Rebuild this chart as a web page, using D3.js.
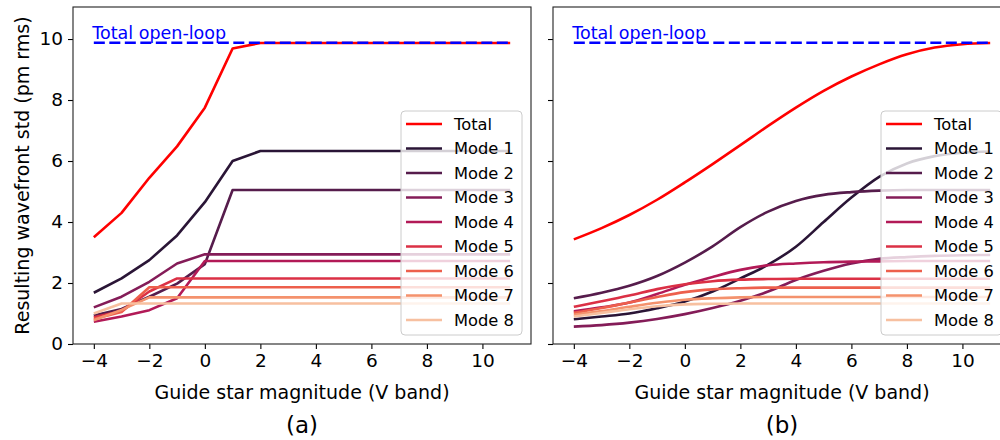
<!DOCTYPE html>
<html>
<head>
<meta charset="utf-8">
<script src="https://cdn.jsdelivr.net/npm/d3@7"></script>
<style>
body { margin: 0; background: #fff; }
text { font-family: "DejaVu Sans", sans-serif; }
</style>
</head>
<body>
<script>
// guide star magnitudes (V band)
var mags = [-4, -3, -2, -1, 0, 1, 2, 3, 4, 5, 6, 7, 8, 9, 10, 11];
var openLoop = 9.88;
var seriesNames = ["Total", "Mode 1", "Mode 2", "Mode 3", "Mode 4", "Mode 5", "Mode 6", "Mode 7", "Mode 8"];
var seriesColors = ["#ff0000", "#2a1536", "#561c4c", "#841c58", "#b21a57", "#db3045", "#ed5f4c", "#f4926d", "#f7c0a0"];
var xTicks = [-4, -2, 0, 2, 4, 6, 8, 10];
var yTicks = [0, 2, 4, 6, 8, 10];

// panel (a)
var totalA = [3.5, 4.3, 5.45, 6.48, 7.75, 9.69, 9.87, 9.87, 9.87, 9.87, 9.87, 9.87, 9.87, 9.87, 9.87, 9.87];
var mode1A = [1.68, 2.15, 2.75, 3.56, 4.65, 6.0, 6.33, 6.33, 6.33, 6.33, 6.33, 6.33, 6.33, 6.33, 6.33, 6.33];
var mode2A = [0.93, 1.15, 1.55, 1.98, 2.62, 5.05, 5.05, 5.05, 5.05, 5.05, 5.05, 5.05, 5.05, 5.05, 5.05, 5.05];
var mode3A = [1.2, 1.55, 2.04, 2.64, 2.94, 2.94, 2.94, 2.94, 2.94, 2.94, 2.94, 2.94, 2.94, 2.94, 2.94, 2.94];
var mode4A = [0.73, 0.9, 1.11, 1.5, 2.72, 2.72, 2.72, 2.72, 2.72, 2.72, 2.72, 2.72, 2.72, 2.72, 2.72, 2.72];
var mode5A = [0.88, 1.08, 1.72, 2.15, 2.15, 2.15, 2.15, 2.15, 2.15, 2.15, 2.15, 2.15, 2.15, 2.15, 2.15, 2.15];
var mode6A = [0.82, 1.05, 1.86, 1.86, 1.86, 1.86, 1.86, 1.86, 1.86, 1.86, 1.86, 1.86, 1.86, 1.86, 1.86, 1.86];
var mode7A = [0.78, 1.12, 1.53, 1.53, 1.53, 1.53, 1.53, 1.53, 1.53, 1.53, 1.53, 1.53, 1.53, 1.53, 1.53, 1.53];
var mode8A = [1.0, 1.33, 1.33, 1.33, 1.33, 1.33, 1.33, 1.33, 1.33, 1.33, 1.33, 1.33, 1.33, 1.33, 1.33, 1.33];

// panel (b)
var totalB = [3.43, 3.8, 4.23, 4.73, 5.3, 5.9, 6.52, 7.15, 7.75, 8.3, 8.77, 9.17, 9.5, 9.72, 9.83, 9.87];
var mode1B = [0.81, 0.9, 1.0, 1.17, 1.39, 1.72, 2.15, 2.6, 3.19, 4.0, 4.8, 5.48, 5.92, 6.16, 6.27, 6.31];
var mode2B = [1.5, 1.68, 1.91, 2.23, 2.67, 3.2, 3.83, 4.34, 4.69, 4.89, 4.98, 5.03, 5.05, 5.05, 5.05, 5.05];
var mode3B = [0.57, 0.62, 0.7, 0.82, 0.98, 1.18, 1.42, 1.72, 2.1, 2.4, 2.64, 2.79, 2.85, 2.89, 2.91, 2.92];
var mode4B = [1.07, 1.2, 1.36, 1.64, 1.94, 2.2, 2.43, 2.58, 2.64, 2.68, 2.7, 2.71, 2.72, 2.72, 2.72, 2.72];
var mode5B = [1.22, 1.4, 1.59, 1.8, 1.96, 2.06, 2.11, 2.13, 2.14, 2.14, 2.14, 2.14, 2.14, 2.14, 2.14, 2.14];
var mode6B = [1.02, 1.18, 1.36, 1.54, 1.7, 1.79, 1.83, 1.85, 1.85, 1.85, 1.85, 1.85, 1.85, 1.85, 1.85, 1.85];
var mode7B = [0.96, 1.08, 1.22, 1.35, 1.45, 1.5, 1.53, 1.54, 1.54, 1.54, 1.54, 1.54, 1.54, 1.54, 1.54, 1.54];
var mode8B = [0.9, 1.02, 1.14, 1.24, 1.3, 1.32, 1.33, 1.33, 1.33, 1.33, 1.33, 1.33, 1.33, 1.33, 1.33, 1.33];

var W = 1000, H = 440;
var svg = d3.select("body").append("svg")
  .attr("width", W)
  .attr("height", H);

var plotW = 458, plotTop = 7, plotBottom = 344;

function drawPanel(left, series, curve, tag, showYLabels) {
  var x = d3.scaleLinear().domain([-4.75, 11.75]).range([left, left + plotW]);
  var y = d3.scaleLinear().domain([0, 11.05]).range([plotBottom, plotTop]);
  var g = svg.append("g");

  // axes
  var xAxis = g.append("g")
    .attr("transform", "translate(0," + plotBottom + ")")
    .call(d3.axisBottom(x).tickValues(xTicks).tickSize(5).tickPadding(5));
  var yAxis = g.append("g")
    .attr("transform", "translate(" + left + ",0)")
    .call(d3.axisLeft(y).tickValues(yTicks).tickSize(5).tickPadding(5)
      .tickFormat(showYLabels ? d3.format("d") : ""));
  [xAxis, yAxis].forEach(function(a) {
    a.select(".domain").remove();
    a.selectAll("line").attr("stroke", "#000").attr("stroke-width", 1.1);
    a.selectAll("text").attr("font-size", 18.5).attr("fill", "#000")
      .attr("font-family", "DejaVu Sans, sans-serif");
  });

  // frame
  g.append("rect")
    .attr("x", left).attr("y", plotTop)
    .attr("width", plotW).attr("height", plotBottom - plotTop)
    .attr("fill", "none").attr("stroke", "#222").attr("stroke-width", 1.1);

  var line = d3.line()
    .x(function(d, i) { return x(mags[i]); })
    .y(function(d) { return y(d); })
    .curve(curve);

  series.forEach(function(s, k) {
    g.append("path")
      .attr("d", line(s))
      .attr("fill", "none")
      .attr("stroke", seriesColors[k])
      .attr("stroke-width", 2.6)
      .attr("stroke-linejoin", "round");
  });

  // open-loop reference
  g.append("line")
    .attr("x1", x(-4)).attr("x2", x(11))
    .attr("y1", y(openLoop)).attr("y2", y(openLoop))
    .attr("stroke", "#0000ff").attr("stroke-width", 2.6)
    .attr("stroke-dasharray", "11,4.5");
  g.append("text")
    .attr("x", x(-4) - 1.5).attr("y", y(openLoop) - 4)
    .attr("font-size", 17.5).attr("fill", "#0000ff")
    .text("Total open-loop");

  // legend
  var lx = left + 328, ly = 111;
  g.append("rect")
    .attr("x", lx).attr("y", ly).attr("width", 121).attr("height", 224)
    .attr("rx", 4)
    .attr("fill", "#fff").attr("fill-opacity", 0.8)
    .attr("stroke", "#cccccc").attr("stroke-width", 1);
  seriesNames.forEach(function(n, k) {
    var yy = ly + 13 + k * 24.5;
    g.append("line")
      .attr("x1", lx + 5).attr("x2", lx + 41)
      .attr("y1", yy).attr("y2", yy)
      .attr("stroke", seriesColors[k]).attr("stroke-width", 2.6);
    g.append("text")
      .attr("x", lx + 53).attr("y", yy).attr("dy", "0.35em")
      .attr("font-size", 16.3).attr("fill", "#000")
      .text(n);
  });

  // titles
  g.append("text")
    .attr("x", left + plotW / 2).attr("y", 392).attr("dy", "0.35em")
    .attr("text-anchor", "middle").attr("font-size", 19)
    .text("Guide star magnitude (V band)");
  g.append("text")
    .attr("x", left + plotW / 2).attr("y", 425).attr("dy", "0.35em")
    .attr("text-anchor", "middle").attr("font-size", 23)
    .text(tag);
}

drawPanel(73, [totalA, mode1A, mode2A, mode3A, mode4A, mode5A, mode6A, mode7A, mode8A], d3.curveLinear, "(a)", true);
drawPanel(553, [totalB, mode1B, mode2B, mode3B, mode4B, mode5B, mode6B, mode7B, mode8B], d3.curveMonotoneX, "(b)", false);

svg.append("text")
  .attr("transform", "translate(22," + (plotTop + plotBottom) / 2 + ") rotate(-90)")
  .attr("text-anchor", "middle").attr("dy", "0.35em")
  .attr("font-size", 19)
  .text("Resulting wavefront std (pm rms)");
</script>
</body>
</html>
